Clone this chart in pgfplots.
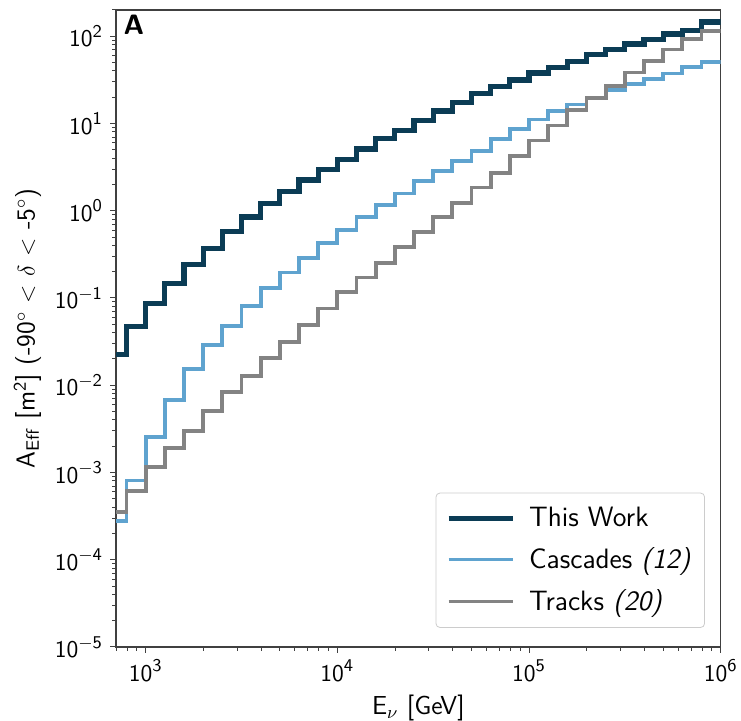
\documentclass[border=0pt]{standalone}
\usepackage{pgfplots}
\pgfplotsset{compat=1.18}
\renewcommand{\familydefault}{\sfdefault}
\definecolor{dk}{HTML}{0B3C55}
\definecolor{lb}{HTML}{5FA3CF}
\definecolor{gr}{HTML}{838383}
\newcommand{\tl}[1]{$\mathsf{10}^{\mathsf{#1}}$}
\begin{document}
\begin{tikzpicture}
\begin{axis}[
 scale only axis, width=302.35pt, height=318.5pt,
 xmode=log, ymode=log, xmin=700, xmax=1e6, ymin=1e-5, ymax=200,
 axis line style={draw=black!75, line width=0.6pt},
 tick align=outside, tick pos=left,
 major tick length=3pt, minor tick length=1.8pt,
 every tick/.style={black!75, line width=0.5pt},
 xtick={1e3,1e4,1e5,1e6},
 xticklabels={\tl{3},\tl{4},\tl{5},\tl{6}},
 minor xtick={700,800,900,2000,3000,4000,5000,6000,7000,8000,9000,20000,30000,40000,50000,60000,70000,80000,90000,200000,300000,400000,500000,600000,700000,800000,900000},
 ytick={1e-5,1e-4,1e-3,1e-2,1e-1,1,10,100},
 yticklabels={\tl{-5},\tl{-4},\tl{-3},\tl{-2},\tl{-1},\tl{0},\tl{1},\tl{2}},
 minor ytick={2e-5,3e-5,4e-5,5e-5,6e-5,7e-5,8e-5,9e-5,2e-4,3e-4,4e-4,5e-4,6e-4,7e-4,8e-4,9e-4,2e-3,3e-3,4e-3,5e-3,6e-3,7e-3,8e-3,9e-3,2e-2,3e-2,4e-2,5e-2,6e-2,7e-2,8e-2,9e-2,0.2,0.3,0.4,0.5,0.6,0.7,0.8,0.9,2,3,4,5,6,7,8,9,20,30,40,50,60,70,80,90,200},
 ticklabel style={font=\fontsize{12.5}{15}\selectfont},
 label style={font=\fontsize{13}{16}\selectfont},
 xlabel={E$_{\nu}$ [GeV]},
 ylabel={A$_{\mathsf{Eff}}$ [m$^{\mathsf{2}}$] (-90$^{\circ}$ $<$ $\delta$ $<$ -5$^{\circ}$)},
 legend style={at={(rel axis cs:0.974,0.03)}, anchor=south east, draw=black!20, rounded corners=2pt, fill=white, font=\fontsize{14}{17}\selectfont, row sep=5pt, inner xsep=5pt, inner ysep=5pt, /tikz/every odd column/.append style={column sep=5pt}},
 legend cell align=left,
 legend image code/.code={\draw[#1] (0pt,0pt) -- (32pt,0pt);},
]
\addplot[const plot, dk, line width=2.6pt] coordinates {
(630.96,0.0225) (794.33,0.047) (1000,0.086) (1258.9,0.147) (1584.9,0.244) (1995.3,0.37) (2511.9,0.58) (3162.3,0.85) (3981.1,1.2) (5011.9,1.65) (6309.6,2.25) (7943.3,3.0) (10000,3.9) (12589,5.1) (15849,6.7) (19953,8.4) (25119,10.8) (31623,13.9) (39811,17.3) (50119,21.9) (63096,26.8) (79433,31.6) (100000,38) (125893,44.2) (158489,51.8) (199526,61.7) (251189,70.5) (316228,81.7) (398107,91.6) (501187,106) (630957,117) (794328,146) (1000000,146)
};
\addlegendentry{This Work}
\addplot[const plot, lb, line width=1.9pt] coordinates {
(630.96,0.00028) (794.33,0.00081) (1000,0.00254) (1258.9,0.0068) (1584.9,0.0153) (1995.3,0.0289) (2511.9,0.048) (3162.3,0.081) (3981.1,0.130) (5011.9,0.196) (6309.6,0.29) (7943.3,0.43) (10000,0.60) (12589,0.84) (15849,1.17) (19953,1.58) (25119,2.17) (31623,2.85) (39811,3.75) (50119,4.85) (63096,6.7) (79433,8.7) (100000,11.1) (125893,13.8) (158489,16.5) (199526,19.8) (251189,24.2) (316228,28.5) (398107,32.5) (501187,37.5) (630957,44) (794328,51) (1000000,51)
};
\addlegendentry{Cascades \textit{(12)}}
\addplot[const plot, gr, line width=1.9pt] coordinates {
(630.96,0.00035) (794.33,0.00061) (1000,0.00115) (1258.9,0.0019) (1584.9,0.0030) (1995.3,0.0051) (2511.9,0.0083) (3162.3,0.0128) (3981.1,0.0205) (5011.9,0.031) (6309.6,0.049) (7943.3,0.076) (10000,0.116) (12589,0.172) (15849,0.25) (19953,0.385) (25119,0.575) (31623,0.84) (39811,1.24) (50119,1.85) (63096,2.73) (79433,4.2) (100000,6.4) (125893,9.5) (158489,14.3) (199526,19.6) (251189,26.8) (316228,38.5) (398107,52) (501187,70.5) (630957,93) (794328,114) (1000000,114)
};
\addlegendentry{Tracks \textit{(20)}}
\node[anchor=north west, font=\bfseries\fontsize{14}{16}\selectfont, inner sep=0pt] at (rel axis cs:0.012,0.992) {A};
\coordinate (ll) at (rel axis cs:0,0);
\coordinate (ur) at (rel axis cs:1,1);
\end{axis}
\pgfresetboundingbox
\path ([shift={(-58pt,-37pt)}]ll) rectangle ([shift={(10.15pt,5pt)}]ur);
\end{tikzpicture}
\end{document}
